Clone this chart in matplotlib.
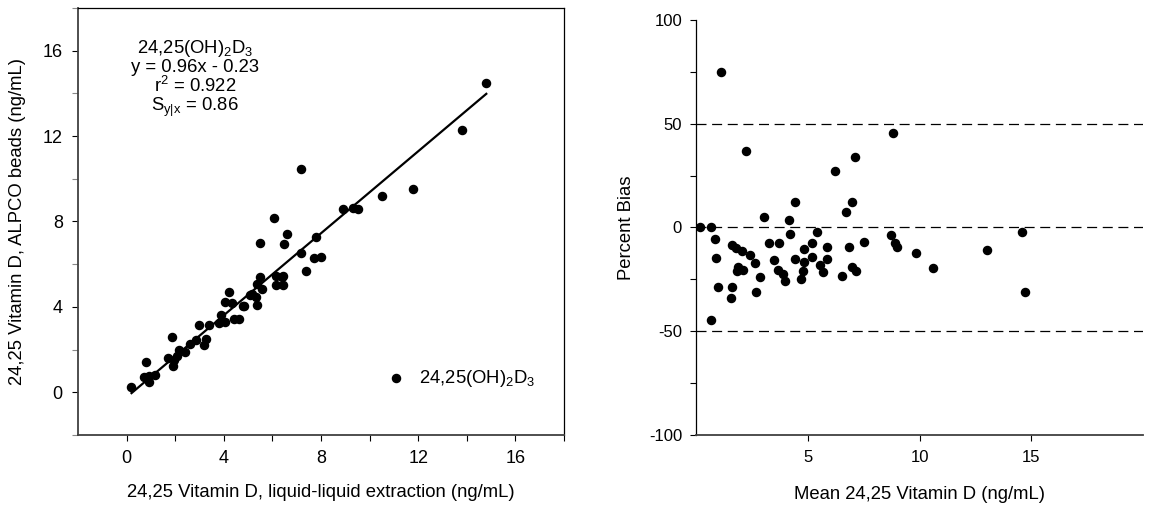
import numpy as np
import matplotlib
matplotlib.use("Agg")
import matplotlib.pyplot as plt
from matplotlib.ticker import MultipleLocator, FixedLocator

plt.rcParams['font.family'] = ['Liberation Sans', 'DejaVu Sans']
plt.rcParams['mathtext.fontset'] = 'custom'
plt.rcParams['mathtext.rm'] = 'Liberation Sans'
plt.rcParams['mathtext.it'] = 'Liberation Sans'
plt.rcParams['axes.unicode_minus'] = False

# left panel: liquid-liquid extraction vs ALPCO beads (ng/mL)
lle = [0.19, 0.71, 0.78, 0.93, 0.9, 1.18, 1.69, 1.87, 1.89, 1.95, 2.06, 2.16,
       2.39, 2.59, 2.84, 2.99, 3.2, 3.28, 3.4, 3.78, 3.87, 4.05, 4.05, 4.2,
       4.32, 4.42, 4.61, 4.8, 5.08, 5.32, 5.38, 5.38, 5.49, 5.58, 6.13, 6.16,
       6.45, 6.45, 7.38, 7.19, 7.7, 8.0, 5.49, 6.48, 6.6, 7.79, 6.08, 8.91,
       9.32, 9.5, 10.49, 11.8, 7.19, 13.8, 14.8, 4.83, 6.39, 5.15]
alpco = [0.24, 0.71, 1.41, 0.78, 0.5, 0.83, 1.6, 2.6, 1.25, 1.5, 1.69, 2.0,
         1.88, 2.27, 2.43, 3.17, 2.2, 2.51, 3.17, 3.23, 3.62, 3.29, 4.25, 4.7,
         4.17, 3.45, 3.45, 4.05, 4.55, 4.44, 4.08, 5.07, 5.38, 4.83, 5.04, 5.46,
         5.46, 5.04, 5.68, 6.52, 6.3, 6.33, 6.99, 6.94, 7.41, 7.27, 8.16, 8.58,
         8.61, 8.58, 9.2, 9.5, 10.46, 12.3, 14.5, 4.06, 5.41, 4.6]

slope = 0.96
intercept = -0.23
fit_x = [0.2, 14.8]

# right panel: mean vs percent bias
mean_d = [0.18, 0.68, 0.85, 0.9, 1.0, 0.68, 1.1, 1.6, 1.78, 2.05, 1.9, 1.85,
          2.12, 1.6, 1.56, 2.24, 2.42, 2.64, 2.88, 2.69, 3.06, 3.26, 3.49, 3.66,
          3.72, 3.91, 4.0, 4.15, 4.21, 4.42, 4.43, 4.71, 4.8, 4.83, 4.83, 5.18,
          5.19, 5.4, 5.55, 5.7, 5.88, 5.88, 6.23, 6.52, 6.7, 6.99, 6.84, 6.96,
          7.16, 7.1, 7.52, 8.71, 8.9, 9.0, 8.79, 9.83, 10.61, 13.0, 14.58, 14.73]
pct_bias = [0, 0, -5.5, -15, -29, -44.5, 75, -8.7, -10.1, -11.3, -19, -21,
            -20.6, -29, -34, 37, -13.2, -17.1, -24, -31, 5, -7.4, -15.6, -20.6,
            -7.4, -22.7, -25.9, 3.7, -3.2, -15.4, 12, -24.9, -20.9, -16.7, -10.6, -7.4,
            -14.1, -2.4, -18, -21.7, -9.5, -15.4, 27, -23.5, 7.2, 12.2, -9.5, -19.1,
            -20.9, 33.8, -6.9, -3.8, -7.4, -9.5, 45.4, -12.6, -19.6, -10.9, -2.2, -31.2]
limits = [50, 0, -50]

fig = plt.figure(figsize=(11.53, 5.17), dpi=100)
ax1 = fig.add_axes([0.0677, 0.1586, 0.4215, 0.826])
ax2 = fig.add_axes([0.6036, 0.1592, 0.388, 0.802])

spine_grey = '#404040'
fs = 13.3
tfs = 13

# ---- left panel
ax1.scatter(lle, alpco, s=34, color='black', zorder=3, label='24,25(OH)$_2$D$_3$')
fx = np.array(fit_x)
ax1.plot(fx, slope * fx + intercept, color='black', lw=1.6, zorder=2)
ax1.set_xlim(-2, 18)
ax1.set_ylim(-2, 18)
ax1.xaxis.set_major_locator(FixedLocator([0, 4, 8, 12, 16]))
ax1.yaxis.set_major_locator(FixedLocator([0, 4, 8, 12, 16]))
ax1.xaxis.set_minor_locator(FixedLocator([2, 6, 10, 14, 18]))
ax1.yaxis.set_minor_locator(FixedLocator([-2, 2, 6, 10, 14, 18]))
ax1.tick_params(which='both', direction='out', length=4, width=0.8, labelsize=tfs, pad=7)
ax1.tick_params(axis='y', which='minor', colors='#888888')
ax1.set_xlabel('24,25 Vitamin D, liquid-liquid extraction (ng/mL)', fontsize=fs, labelpad=12)
ax1.set_ylabel('24,25 Vitamin D, ALPCO beads (ng/mL)', fontsize=fs, labelpad=12)
for s in ['left', 'bottom']:
    ax1.spines[s].set_color(spine_grey)
    ax1.spines[s].set_linewidth(1.3)
for s in ['top', 'right']:
    ax1.spines[s].set_linewidth(0.9)
ax1.text(2.8, 16.6, '24,25(OH)$_2$D$_3$\ny = 0.96x - 0.23\nr$^2$ = 0.922\nS$_{y|x}$ = 0.86',
         ha='center', va='top', fontsize=fs, linespacing=1.0)
ax1.legend(loc='center left', bbox_to_anchor=(0.6, 0.133), frameon=False,
           fontsize=fs, handletextpad=0.25, markerscale=1.0, borderaxespad=0)

# ---- right panel
ax2.scatter(mean_d, pct_bias, s=34, color='black', zorder=3)
for v in limits:
    ax2.axhline(v, color='black', lw=0.9, ls=(0, (8, 4.5)), zorder=1)
ax2.set_xlim(0, 20)
ax2.set_ylim(-100, 100)
ax2.xaxis.set_major_locator(FixedLocator([5, 10, 15]))
ax2.yaxis.set_major_locator(MultipleLocator(50))
ax2.yaxis.set_minor_locator(MultipleLocator(25))
ax2.tick_params(which='both', direction='out', length=4, width=0.8, labelsize=tfs - 1, pad=6)
ax2.tick_params(axis='x', pad=7)
ax2.set_xlabel('Mean 24,25 Vitamin D (ng/mL)', fontsize=fs, labelpad=15)
ax2.set_ylabel('Percent Bias', fontsize=fs, labelpad=10)
ax2.spines['top'].set_visible(False)
ax2.spines['right'].set_visible(False)
ax2.spines['bottom'].set_color(spine_grey)
ax2.spines['bottom'].set_linewidth(1.3)
ax2.spines['left'].set_linewidth(0.9)

fig.savefig('out.png', dpi=100)
